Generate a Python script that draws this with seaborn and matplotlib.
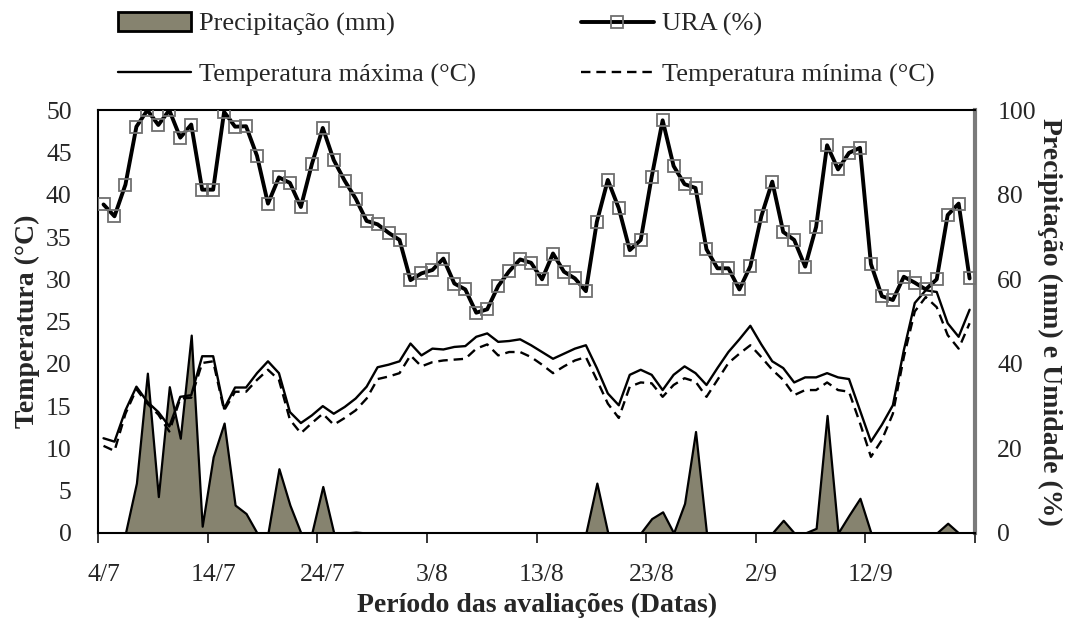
import numpy as np
import pandas as pd
import seaborn as sns
import matplotlib.pyplot as plt
from matplotlib.lines import Line2D
from matplotlib.patches import Patch

# dados diarios de 4/7 a 21/9
ura = [77.7, 74.9, 82.4, 96.1, 100.0, 96.5, 100.0, 93.5, 96.6, 81.2,
       81.2, 99.6, 96.1, 96.2, 89.2, 77.9, 84.1, 82.8, 77.1, 87.2,
       95.8, 88.2, 83.3, 79.1, 73.8, 73.0, 71.0, 69.3, 59.8, 61.4,
       62.2, 64.9, 59.0, 57.6, 52.1, 52.9, 58.4, 61.9, 64.7, 63.9,
       60.0, 66.1, 61.8, 60.2, 57.2, 73.6, 83.5, 76.8, 66.9, 69.3,
       84.2, 97.6, 86.8, 82.5, 81.6, 67.1, 62.6, 62.6, 57.6, 63.1,
       74.9, 83.1, 71.2, 69.3, 63.0, 72.4, 91.7, 86.0, 89.9, 91.1,
       63.6, 56.0, 55.1, 60.6, 59.2, 57.6, 60.0, 75.2, 77.9, 60.2]

tmax = [11.2, 10.8, 14.5, 17.3, 15.5, 14.3, 12.6, 16.1, 16.3, 20.9,
        20.9, 14.7, 17.2, 17.2, 18.9, 20.3, 18.9, 14.3, 13.0, 13.9,
        15.0, 14.1, 14.9, 15.9, 17.3, 19.6, 19.9, 20.3, 22.4, 21.0,
        21.8, 21.7, 22.0, 22.1, 23.2, 23.6, 22.6, 22.7, 22.9, 22.2,
        21.4, 20.6, 21.2, 21.8, 22.2, 19.5, 16.5, 15.1, 18.7, 19.3,
        18.7, 16.9, 18.7, 19.7, 18.9, 17.5, 19.5, 21.4, 22.9, 24.5,
        22.3, 20.3, 19.5, 17.8, 18.4, 18.4, 18.9, 18.4, 18.2, 14.5,
        10.8, 12.8, 15.1, 21.6, 27.2, 28.7, 28.5, 24.8, 23.2, 26.4]

tmin = [10.3, 9.7, 14.1, 17.0, 15.3, 14.0, 12.0, 15.9, 16.0, 20.1,
        20.3, 14.5, 16.7, 16.7, 18.1, 19.3, 18.1, 13.4, 11.8, 13.0,
        14.1, 12.8, 13.6, 14.5, 15.9, 18.2, 18.5, 18.9, 21.0, 19.7,
        20.2, 20.4, 20.5, 20.6, 21.8, 22.3, 21.0, 21.4, 21.4, 20.8,
        19.9, 18.9, 19.7, 20.4, 20.8, 18.1, 15.3, 13.6, 17.3, 17.8,
        17.7, 16.1, 17.5, 18.3, 17.9, 16.1, 18.1, 20.1, 21.2, 22.2,
        20.8, 19.3, 18.1, 16.3, 16.9, 16.9, 17.8, 16.9, 16.7, 13.0,
        9.0, 11.0, 14.1, 20.8, 26.2, 27.9, 26.7, 23.4, 21.8, 24.8]

prec = [0, 0, 0, 11.8, 37.8, 8.6, 34.6, 22.4, 46.8, 1.6,
        18.0, 26.0, 6.6, 4.6, 0, 0, 15.2, 6.6, 0, 0,
        11.0, 0, 0, 0.2, 0, 0, 0, 0, 0, 0,
        0, 0, 0, 0, 0, 0, 0, 0, 0, 0,
        0, 0, 0, 0, 0, 11.8, 0, 0, 0, 0,
        3.4, 5.0, 0, 7.0, 24.0, 0, 0, 0, 0, 0,
        0, 0, 3.0, 0, 0, 1.1, 27.8, 0, 4.2, 8.2,
        0, 0, 0, 0, 0, 0, 0, 2.3, 0, 0]

datas = ['4/7', '14/7', '24/7', '3/8', '13/8', '23/8', '2/9', '12/9']

df = pd.DataFrame({'dia': np.arange(len(ura)), 'ura': ura,
                   'tmax': tmax, 'tmin': tmin, 'prec': prec})

sns.set_style('white')
plt.rcParams['font.family'] = ['Liberation Serif', 'DejaVu Serif']

fig, ax = plt.subplots(figsize=(10.68, 6.19), dpi=100)
fig.subplots_adjust(left=0.0918, right=0.913, top=0.822, bottom=0.139)
axp = ax.twinx()
axu = ax.twinx()

cor_prec = '#86836f'

# precipitacao (eixo direito)
axp.fill_between(df['dia'], df['prec'], color=cor_prec, edgecolor='black', lw=1.6)

# temperaturas (eixo esquerdo)
sns.lineplot(data=df, x='dia', y='tmax', ax=ax, color='black', lw=1.7)
sns.lineplot(data=df, x='dia', y='tmin', ax=ax, color='black', lw=1.7, linestyle=(0, (4, 2.5)))

# umidade relativa
sns.lineplot(data=df, x='dia', y='ura', ax=axu, color='black', lw=2.8,
             marker='s', markersize=9, markerfacecolor='none',
             markeredgecolor='#707070', markeredgewidth=1.3)

axp.set_zorder(1)
ax.set_zorder(2)
axu.set_zorder(3)
for a in (ax, axp, axu):
    a.patch.set_visible(False)

n = len(ura)
for a in (ax, axp, axu):
    a.set_xlim(-0.5, n - 0.5)
ax.set_ylim(0, 50)
axp.set_ylim(0, 100)
axu.set_ylim(0, 100)
axu.set_axis_off()

fs_tick = 18.5
fs_lab = 20

# eixo x: marcas entre categorias, rotulos no centro
ax.set_xticks(np.arange(-0.5, n, 10))
ax.set_xticklabels([])
ax.set_xticks(np.arange(0, n, 10), datas, minor=True)
ax.tick_params(axis='x', which='major', direction='out', length=7, width=1.3, bottom=True)
ax.tick_params(axis='x', which='minor', length=0, pad=22, labelsize=fs_tick)

ax.set_yticks(range(0, 51, 5))
ax.tick_params(axis='y', length=0, pad=19, labelsize=fs_tick)
axp.set_yticks(range(0, 101, 20))
axp.tick_params(axis='y', length=0, pad=16, labelsize=fs_tick)

for s in ('left', 'bottom', 'top'):
    ax.spines[s].set_color('black')
    ax.spines[s].set_linewidth(1.5)
ax.spines['right'].set_visible(False)
for s in ('left', 'bottom', 'top'):
    axp.spines[s].set_visible(False)
axp.spines['right'].set_color('#7a7a7a')
axp.spines['right'].set_linewidth(3)

ax.set_xlabel('Período das avaliações (Datas)', fontsize=fs_lab, fontweight='bold', labelpad=5)
ax.set_ylabel('Temperatura (°C)', fontsize=fs_lab, fontweight='bold', labelpad=4)
axp.set_ylabel('Precipitação (mm) e Umidade (%)', fontsize=fs_lab, fontweight='bold',
               rotation=270, labelpad=19)

handles = [
    Patch(facecolor=cor_prec, edgecolor='black', lw=2),
    Line2D([], [], color='black', lw=1.7),
    Line2D([], [], color='black', lw=2.8, marker='s', markersize=9,
           markerfacecolor='none', markeredgecolor='#707070', markeredgewidth=1.3),
    Line2D([], [], color='black', lw=1.7, linestyle=(0, (4, 2.5))),
]
labels = ['Precipitação (mm)', 'Temperatura máxima (°C)', 'URA (%)', 'Temperatura mínima (°C)']
fig.legend(handles, labels, ncol=2, loc='upper left', bbox_to_anchor=(0.1105, 0.98),
           frameon=False, fontsize=19, handlelength=2.75, handletextpad=0.3,
           columnspacing=4.0, labelspacing=1.0, borderpad=0, borderaxespad=0)

fig.savefig('out.png', dpi=100)
